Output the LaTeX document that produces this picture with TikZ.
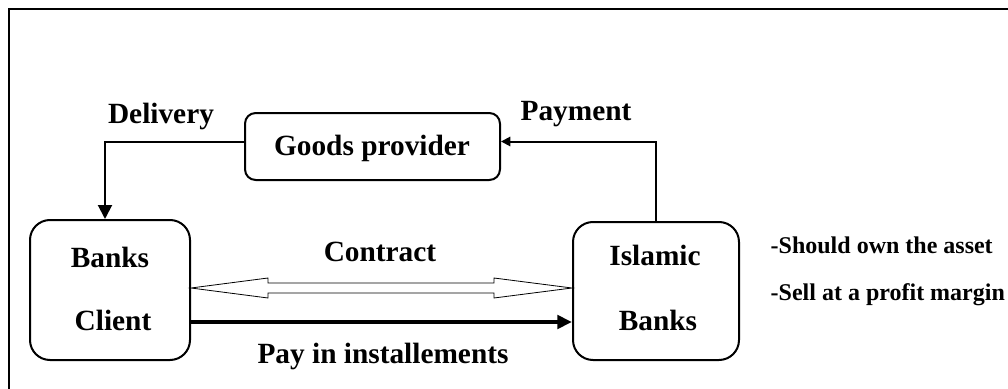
\documentclass[tikz,border=0pt]{standalone}
\usepackage{fontspec}
\setmainfont{Liberation Serif}
\usetikzlibrary{arrows.meta,calc}
\begin{document}
\begin{tikzpicture}[x=0.75pt,y=-0.75pt,
  box/.style={draw,line width=1.5pt,rounded corners=#1,inner sep=0pt},
  lbl/.style={font=\fontsize{22}{26}\selectfont\bfseries,anchor=base},
  note/.style={font=\fontsize{18}{22}\selectfont\bfseries,anchor=base west},
  flow/.style={line width=1.5pt,-{Triangle[length=10.5pt,width=10.5pt]}},
  pay/.style={line width=1.5pt,-{Triangle[length=7pt,width=7pt]}},
  inst/.style={line width=3pt,-{Triangle[length=11pt,width=10pt]}}]
\useasboundingbox (0,0) rectangle (1008,389);
% outer frame, open to the right and bottom
\draw[line width=2pt] (9,392) -- (9,9) -- (1012,9);

% boxes
\node[box=8pt,minimum width=255*0.75pt,minimum height=67*0.75pt] (goods) at (372.5,146.5) {};
\node[box=15pt,minimum width=160*0.75pt,minimum height=140*0.75pt] (client) at (110,290) {};
\node[box=15pt,minimum width=166*0.75pt,minimum height=138*0.75pt] (islamic) at (656,291) {};

% box texts
\node[lbl] (goodsT) at (372,155) {Goods provider};
\node[lbl] (clientA) at (110,267) {Banks};
\node[lbl] (clientB) at (113,330) {Client};
\node[lbl] (islamA) at (655,265) {Islamic};
\node[lbl] (islamB) at (658,330) {Banks};

% delivery and payment
\draw[flow] ($(goods.west)+(0,-5)$) -| ($(client.north)+(-5,0)$);
\draw[pay] (islamic.north) |- ($(goods.east)+(0,-5)$);
\node[lbl] (delivery) at (161,123) {Delivery};
\node[lbl] (payment) at (576,120) {Payment};

% contract: hollow double arrow
\coordinate (ca) at (client.east |- 0,288);
\coordinate (cb) at (islamic.west |- 0,288);
\draw[line width=0.6pt,fill=white]
  (ca) -- ($(ca)+(77,-10)$) -- ($(ca)+(77,-5)$) -- ($(cb)+(-78,-5)$)
  -- ($(cb)+(-78,-10)$) -- (cb) -- ($(cb)+(-78,10)$) -- ($(cb)+(-78,5)$)
  -- ($(ca)+(77,5)$) -- ($(ca)+(77,10)$) -- cycle;
\node[lbl] (contract) at (380,261) {Contract};

% installments
\draw[inst] (client.east |- 0,322) -- (islamic.west |- 0,322);
\node[lbl] (installT) at (383,363) {Pay in installements};

% notes
\node[note] (own) at (766,253) {-Should own the asset};
\node[note] (sell) at (766,300) {-Sell at a profit margin};
\end{tikzpicture}
\end{document}
